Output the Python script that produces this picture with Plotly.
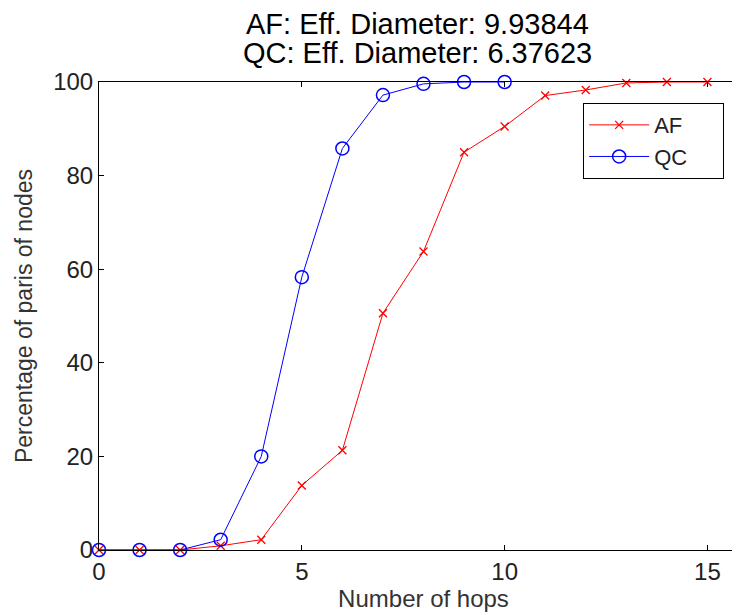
import plotly.graph_objects as go

# hops and percentage of node pairs reached
hops_af = [0, 1, 2, 3, 4, 5, 6, 7, 8, 9, 10, 11, 12, 13, 14, 15]
pct_af = [0, 0, 0, 0.9, 2.2, 13.8, 21.3, 50.6, 63.8, 85.0, 90.5, 97.1, 98.3, 99.8, 100, 100]

hops_qc = [0, 1, 2, 3, 4, 5, 6, 7, 8, 9, 10]
pct_qc = [0, 0, 0, 2.2, 20.0, 58.3, 85.8, 97.2, 99.6, 100, 100]

x_ticks = [0, 5, 10, 15]
y_ticks = [0, 20, 40, 60, 80, 100]

title_lines = ["AF: Eff. Diameter: 9.93844", "QC: Eff. Diameter: 6.37623"]

FONT = "Liberation Sans, Arial, sans-serif"
PAD = "\u00a0" * 5  # widens the legend box like the original

fig = go.Figure()
fig.add_trace(go.Scatter(
    x=hops_af, y=pct_af, name="AF" + PAD,
    mode="lines+markers",
    line=dict(color="#ff0000", width=1),
    marker=dict(symbol="x-thin", size=8, line=dict(color="#ff0000", width=1.3)),
    cliponaxis=False,
))
fig.add_trace(go.Scatter(
    x=hops_qc, y=pct_qc, name="QC" + PAD,
    mode="lines+markers",
    line=dict(color="#0000ff", width=1),
    marker=dict(symbol="circle-open", size=13, color="#0000ff", line=dict(width=1.5)),
    cliponaxis=False,
))

axis_common = dict(
    showgrid=False, zeroline=False,
    showline=True, linecolor="black", linewidth=1, mirror="ticks",
    ticks="inside", ticklen=5, tickcolor="black",
    tickfont=dict(family=FONT, size=24, color="#222"),
)

# two title lines placed separately to get the tight line spacing
for text, ypos in zip(title_lines, [1.124, 1.062]):
    fig.add_annotation(
        text=text, xref="paper", yref="paper", x=0.49, y=ypos,
        xanchor="center", yanchor="middle", showarrow=False,
        font=dict(family=FONT, size=29, color="black"),
    )

fig.update_layout(
    width=740, height=615,
    paper_bgcolor="white", plot_bgcolor="white",
    margin=dict(l=91, r=0, t=74, b=73),
    showlegend=True,
    xaxis=dict(
        **axis_common, range=[0, 16], tickvals=x_ticks,
        title=dict(text="Number of hops", standoff=6,
                   font=dict(family=FONT, size=24, color="#333")),
    ),
    yaxis=dict(
        **axis_common, range=[0, 100], tickvals=y_ticks,
        title=dict(text="Percentage of paris of nodes", standoff=14,
                   font=dict(family=FONT, size=23, color="#333")),
    ),
    legend=dict(
        x=0.746, y=0.955, xanchor="left", yanchor="top",
        bgcolor="white", bordercolor="black", borderwidth=1,
        font=dict(family=FONT, size=22, color="#222"),
        tracegroupgap=0, itemwidth=60,
    ),
)

fig.write_html("out.html")
